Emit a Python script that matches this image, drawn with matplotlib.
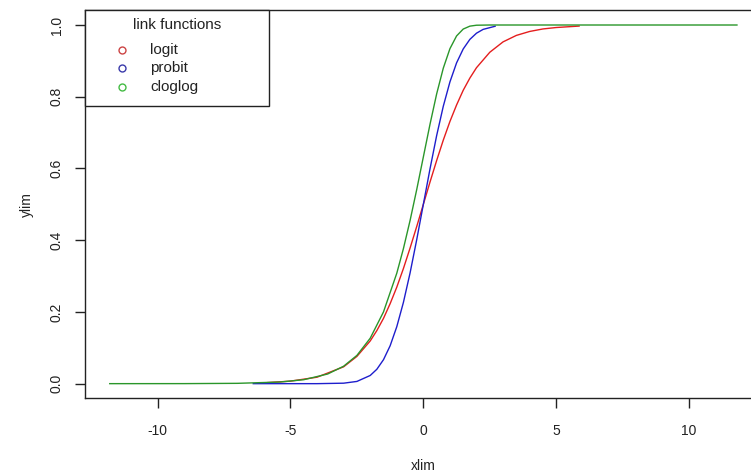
import matplotlib
matplotlib.use('Agg')
import matplotlib.pyplot as plt
from matplotlib.patches import Rectangle

plt.rcParams['font.family'] = ['Liberation Sans', 'DejaVu Sans']

# ---- data ----
logit_x = [-5.86, -5.0, -4.0, -3.0, -2.5, -2.0, -1.75, -1.5, -1.25, -1.0, -0.75, -0.5, -0.25,
           0.0, 0.25, 0.5, 0.75, 1.0, 1.25, 1.5, 1.75, 2.0, 2.5, 3.0, 3.5, 4.0, 4.5, 5.0, 5.86]
logit_y = [0.003, 0.007, 0.018, 0.047, 0.076, 0.119, 0.148, 0.182, 0.223, 0.269, 0.321, 0.378, 0.438,
           0.500, 0.562, 0.622, 0.679, 0.731, 0.777, 0.818, 0.852, 0.881, 0.924, 0.953, 0.971, 0.982,
           0.989, 0.993, 0.997]

probit_x = [-6.4, -5.0, -4.0, -3.0, -2.5, -2.0, -1.75, -1.5, -1.25, -1.0, -0.75, -0.5, -0.25,
            0.0, 0.25, 0.5, 0.75, 1.0, 1.25, 1.5, 1.75, 2.0, 2.25, 2.7]
probit_y = [0.0, 0.0, 0.0, 0.0013, 0.0062, 0.0228, 0.0401, 0.0668, 0.1056, 0.1587, 0.2266, 0.3085,
            0.4013, 0.5, 0.5987, 0.6915, 0.7734, 0.8413, 0.8944, 0.9332, 0.9599, 0.9772, 0.9878, 0.9965]

cloglog_x = [-11.8, -9.0, -7.0, -5.4, -4.5, -3.6, -3.0, -2.5, -2.0, -1.5, -1.0, -0.75, -0.5, -0.25,
             0.0, 0.25, 0.5, 0.75, 1.0, 1.25, 1.5, 1.75, 2.0, 2.5, 11.8]
cloglog_y = [0.0, 0.0001, 0.0009, 0.0045, 0.011, 0.0269, 0.0486, 0.0788, 0.1266, 0.2, 0.3078, 0.3765,
             0.4548, 0.541, 0.6321, 0.7231, 0.8077, 0.8796, 0.934, 0.9695, 0.9887, 0.9968, 0.9994, 1.0, 1.0]

series_names = ['logit', 'probit', 'cloglog']
line_colors = ['#e41e1e', '#1e1ecc', '#2a962a']
legend_colors = ['#cc4444', '#3a3aaa', '#44bb44']
x_ticks = [-10, -5, 0, 5, 10]
y_ticks = [0.0, 0.2, 0.4, 0.6, 0.8, 1.0]
y_tick_labels = ['0.0', '0.2', '0.4', '0.6', '0.8', '1.0']

W, H = 751, 475
fig = plt.figure(figsize=(W / 100, H / 100), dpi=100)
ax_l, ax_r, ax_t, ax_b = 85.3, 761.4, 10.3, 398.0
ax = fig.add_axes([ax_l / W, 1 - ax_b / H, (ax_r - ax_l) / W, (ax_b - ax_t) / H])

for xs, ys, c in zip([logit_x, probit_x, cloglog_x], [logit_y, probit_y, cloglog_y], line_colors):
    ax.plot(xs, ys, color=c, lw=1.0, solid_joinstyle='round')

ax.set_xlim(-12.72, 12.72)
ax.set_ylim(-0.040, 1.041)
ax.set_xticks(x_ticks)
ax.set_xticklabels([str(t) for t in x_ticks])
ax.set_yticks(y_ticks)
ax.set_yticklabels(y_tick_labels, rotation=90, va='center')

for s in ax.spines.values():
    s.set_linewidth(1.0)
    s.set_color('#222222')
ax.tick_params(axis='both', direction='out', length=7, width=1.0, colors='#222222',
               labelsize=10, labelcolor='#222222')
ax.tick_params(axis='x', pad=12)
ax.tick_params(axis='y', pad=8.5)

ax.set_xlabel('xlim', fontsize=10, color='#222222', va='center')
ax.xaxis.set_label_coords(0.5, -(466 - ax_b) / (ax_b - ax_t))
ax.set_ylabel('ylim', fontsize=10, color='#222222', va='center', ha='center')
ax.yaxis.set_label_coords((27 - ax_l) / (ax_r - ax_l), 0.5)

# ---- legend drawn in axes fraction ----
def fx(px):
    return (px - ax_l) / (ax_r - ax_l)

def fy(py):
    return 1 - (py - ax_t) / (ax_b - ax_t)

ax.add_patch(Rectangle((fx(85.3), fy(106)), fx(269) - fx(85.3), fy(10.3) - fy(106),
                       transform=ax.transAxes, fill=True, facecolor='white',
                       edgecolor='#222222', lw=1.0, zorder=5, clip_on=False))
ax.text(fx(177), fy(25), 'link functions', transform=ax.transAxes, ha='center', va='center',
        fontsize=11, color='#222222', zorder=6)
for i, (name, c) in enumerate(zip(series_names, legend_colors)):
    yy = fy(50 + i * 18.5)
    ax.plot([fx(121.7)], [yy], marker='o', mfc='none', mec=c, ms=5, mew=1.0,
            transform=ax.transAxes, zorder=6, clip_on=False)
    ax.text(fx(150), yy, name, transform=ax.transAxes, ha='left', va='center',
            fontsize=11, color='#222222', zorder=6)

fig.savefig('out.png', dpi=100)
